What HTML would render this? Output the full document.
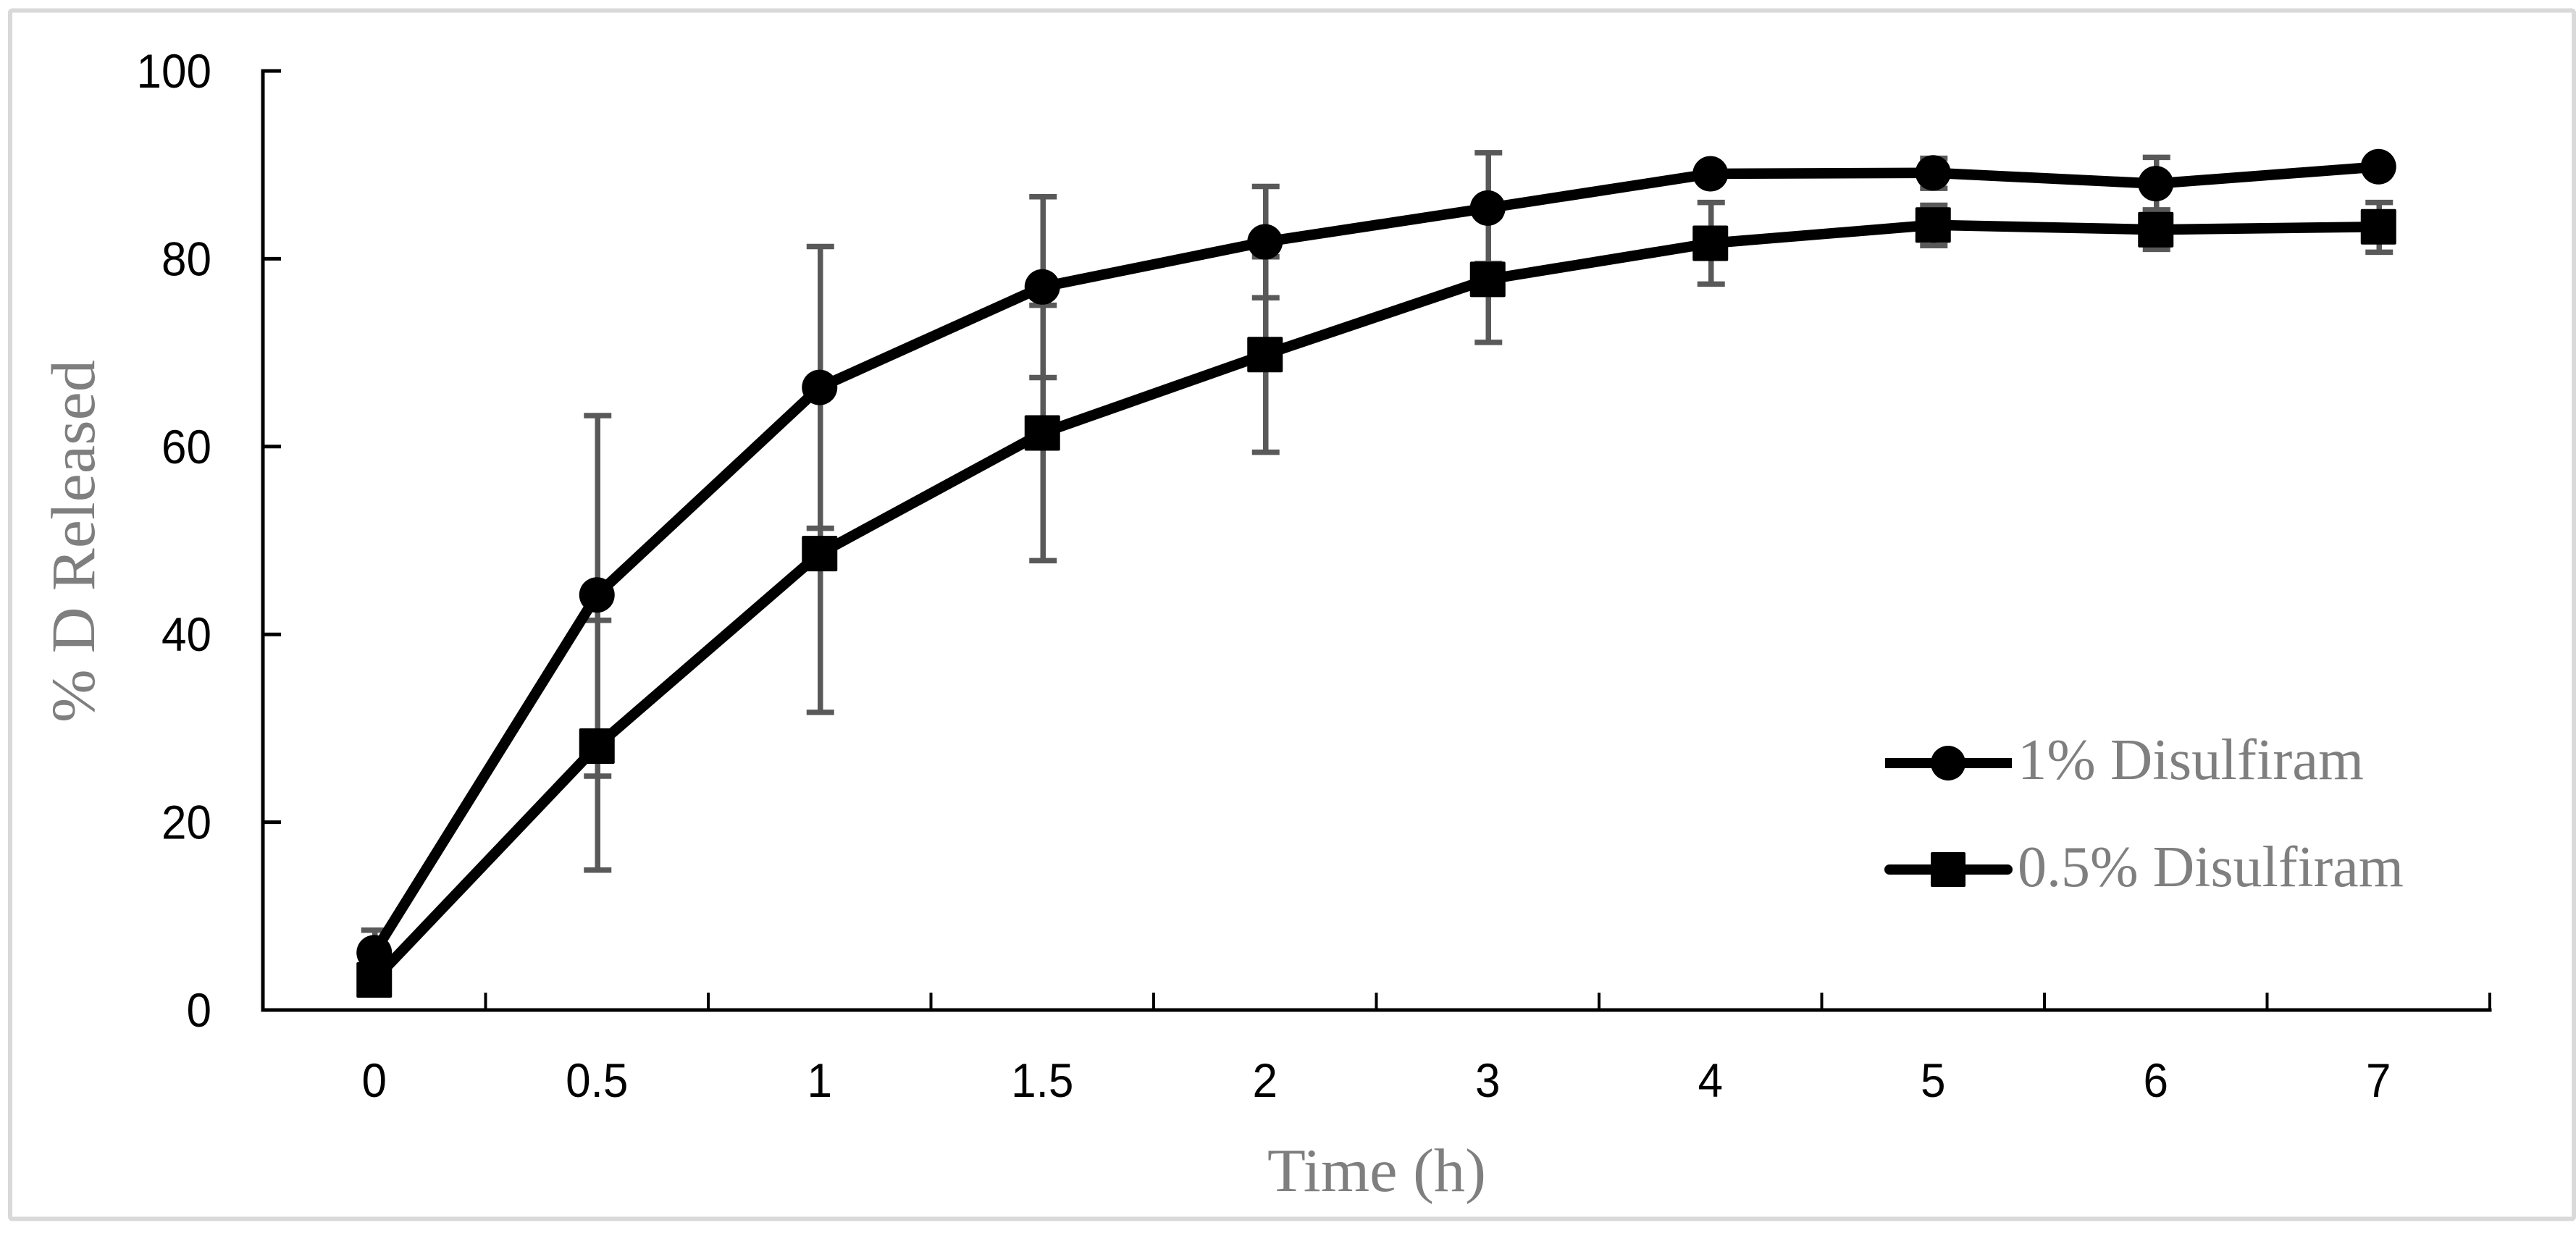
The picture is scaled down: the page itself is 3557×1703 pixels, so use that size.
<!DOCTYPE html>
<html lang="en">
<head>
<meta charset="utf-8">
<title>% D Released over time</title>
<style>
html,body{margin:0;padding:0;background:#fff;width:3557px;height:1703px;overflow:hidden}
svg{display:block}
text{white-space:pre}
</style>
</head>
<body>
<svg id="chart" xmlns="http://www.w3.org/2000/svg" width="3557" height="1703" viewBox="0 0 3557 1703">
<rect x="0" y="0" width="3557" height="1703" fill="#fff"/>
<rect x="14" y="14.5" width="3540" height="1669" rx="3" fill="#fff" stroke="#d9d9d9" stroke-width="6"/>
<g id="error-layer"></g>
<g id="axis-layer"></g>
<g id="series-layer"></g>
<text transform="translate(130,998) rotate(-90)" font-family="'Liberation Serif',serif" font-size="86" fill="#7f7f7f" textLength="501" lengthAdjust="spacingAndGlyphs">% D Released</text>
<text x="1750" y="1645" font-family="'Liberation Serif',serif" font-size="85" fill="#7f7f7f" textLength="302" lengthAdjust="spacingAndGlyphs">Time (h)</text>
<g>
  <g>
    <line x1="2603" y1="1054" x2="2778" y2="1054" stroke="#000" stroke-width="14"/>
    <circle cx="2690" cy="1054" r="24" fill="#000"/>
    <text x="2786" y="1076" font-family="'Liberation Serif',serif" font-size="80" fill="#7f7f7f" textLength="478" lengthAdjust="spacingAndGlyphs">1% Disulfiram</text>
  </g>
  <g>
    <line x1="2609" y1="1201" x2="2772" y2="1201" stroke="#000" stroke-width="14" stroke-linecap="round"/>
    <rect x="2666" y="1177" width="48" height="48" rx="2" fill="#000"/>
    <text x="2786" y="1224" font-family="'Liberation Serif',serif" font-size="80" fill="#7f7f7f" textLength="533" lengthAdjust="spacingAndGlyphs">0.5% Disulfiram</text>
  </g>
</g>
</svg>
<script>
const categories = ['0', '0.5', '1', '1.5', '2', '3', '4', '5', '6', '7'];
const yTicks = [0, 20, 40, 60, 80, 100];
const mean1pct = [6.1, 44.2, 66.3, 77.0, 81.8, 85.4, 89.05, 89.15, 88.0, 89.8];
const upper1pct = [8.5, 63.3, 81.3, 86.6, 87.7, 91.3, 89.85, 90.7, 90.8, 90.6];
const lower1pct = [3.7, 24.9, 51.3, 67.35, 75.85, 79.5, 88.25, 87.5, 85.2, 89.0];
const mean05pct = [3.2, 28.1, 48.6, 61.45, 69.8, 77.8, 81.65, 83.6, 83.1, 83.4];
const upper05pct = [4.2, 41.5, 65.5, 75.05, 80.2, 84.5, 86.0, 85.7, 85.2, 86.0];
const lower05pct = [2.2, 14.9, 31.7, 47.85, 59.4, 71.1, 77.3, 81.4, 81.0, 80.7];

const NS = 'http://www.w3.org/2000/svg';
const plotLeft = 363, plotStep = 307.5, plotBase = 1395, plotTop = 98;
const xCenter = i => plotLeft + (i + 0.5) * plotStep;
const xEdge = i => plotLeft + i * plotStep;
const yScale = v => plotBase - (plotBase - plotTop) * v / 100;

function make(parent, tag, attrs) {
  const el = document.createElementNS(NS, tag);
  for (const k in attrs) el.setAttribute(k, attrs[k]);
  parent.appendChild(el);
  return el;
}
const axisLayer = document.getElementById('axis-layer');
const errorLayer = document.getElementById('error-layer');
const seriesLayer = document.getElementById('series-layer');

function tickLabel(txt, x, y, anchor) {
  const t = make(axisLayer, 'text', {
    transform: 'translate(' + x + ',' + y + ') scale(0.94,1)',
    'text-anchor': anchor,
    'font-family': "'Liberation Sans',sans-serif",
    'font-size': 66,
    fill: '#000'
  });
  t.textContent = txt;
  return t;
}

const yAxisLine = make(axisLayer, 'line', {x1: plotLeft, y1: plotTop - 2.5, x2: plotLeft, y2: plotBase + 2.5, stroke: '#000', 'stroke-width': 5});


const xAxisLine = make(axisLayer, 'line', {x1: plotLeft, y1: plotBase, x2: xEdge(categories.length) + 2.5, y2: plotBase, stroke: '#000', 'stroke-width': 5});



yTicks.forEach(v => {
  const y = yScale(v);
  if (v !== 0) {
    const tk = make(axisLayer, 'line', {x1: plotLeft, y1: y, x2: plotLeft + 25, y2: y, stroke: '#000', 'stroke-width': 5});
    
    
  }
  const lb = tickLabel(String(v), 292, y + 23, 'end');
  
  
});

categories.forEach((c, i) => {
  const x = xEdge(i + 1);
  const tk = make(axisLayer, 'line', {x1: x, y1: plotBase, x2: x, y2: plotBase - 24, stroke: '#000', 'stroke-width': 4});
  
  
  const lb = tickLabel(c, xCenter(i), 1515, 'middle');
  
  
});

function drawErrors(upper, lower) {
  upper.forEach((u, i) => {
    const x = xCenter(i) + 1;
    const yu = yScale(u), yl = yScale(lower[i]);
    const g = make(errorLayer, 'g', {stroke: '#595959', 'stroke-width': 7.5});
    
    
    make(g, 'line', {x1: x, y1: yu, x2: x, y2: yl});
    make(g, 'line', {x1: x - 19, y1: yu, x2: x + 19, y2: yu});
    make(g, 'line', {x1: x - 19, y1: yl, x2: x + 19, y2: yl});
  });
}
drawErrors(upper1pct, lower1pct);
drawErrors(upper05pct, lower05pct);

function pathFor(values) {
  return values.map((v, i) => (i ? 'L' : 'M') + xCenter(i) + ' ' + yScale(v)).join(' ');
}
const line1 = make(seriesLayer, 'path', {d: pathFor(mean1pct), fill: 'none', stroke: '#000', 'stroke-width': 14.5, 'stroke-linejoin': 'round'});


const line05 = make(seriesLayer, 'path', {d: pathFor(mean05pct), fill: 'none', stroke: '#000', 'stroke-width': 14.5, 'stroke-linejoin': 'round'});



mean1pct.forEach((v, i) => {
  const m = make(seriesLayer, 'circle', {cx: xCenter(i), cy: yScale(v), r: 24.5, fill: '#000'});
  
  
});
mean05pct.forEach((v, i) => {
  const m = make(seriesLayer, 'rect', {x: xCenter(i) - 24.5, y: yScale(v) - 24.5, width: 49, height: 49, rx: 2, fill: '#000'});
  
  
});
</script>
</body>
</html>
